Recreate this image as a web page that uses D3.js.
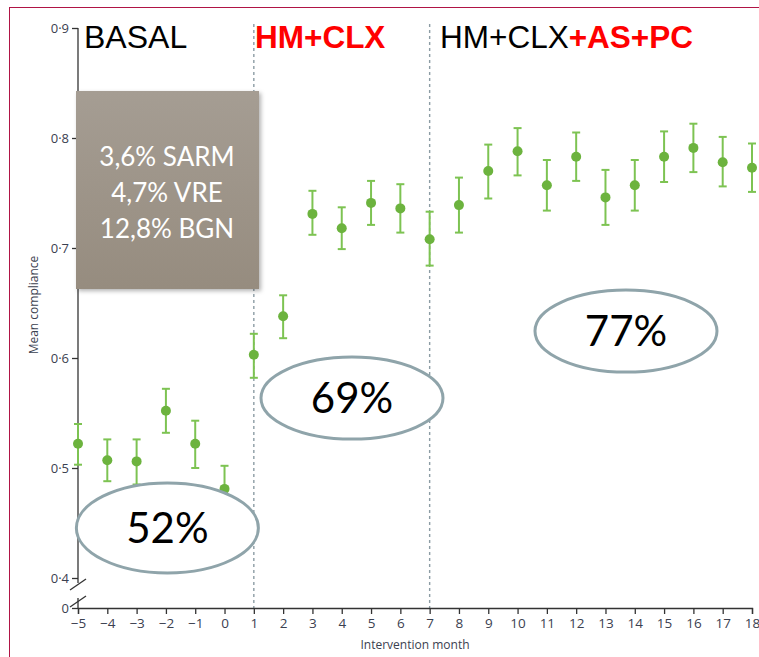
<!DOCTYPE html>
<html>
<head>
<meta charset="utf-8">
<script src="https://cdn.jsdelivr.net/npm/d3@7"></script>
<style>
  html, body { margin: 0; padding: 0; background: #fff; }
  svg { display: block; }
</style>
</head>
<body>
<svg id="chart" width="759" height="657"></svg>
<script>
// Monthly mean compliance with error bars
const months = [-5, -4, -3, -2, -1, 0, 1, 2, 3, 4, 5, 6, 7, 8, 9, 10, 11, 12, 13, 14, 15, 16, 17, 18];
const meanCompliance = [0.522, 0.507, 0.506, 0.552, 0.522, 0.481, 0.603, 0.638, 0.731, 0.718, 0.741, 0.736, 0.708, 0.739, 0.770, 0.788, 0.757, 0.783, 0.746, 0.757, 0.783, 0.791, 0.778, 0.773];
const upperCI = [0.540, 0.526, 0.526, 0.572, 0.543, 0.502, 0.622, 0.657, 0.752, 0.737, 0.761, 0.758, 0.733, 0.764, 0.794, 0.809, 0.780, 0.805, 0.771, 0.780, 0.806, 0.813, 0.801, 0.795];
const lowerCI = [0.503, 0.488, 0.485, 0.532, 0.500, 0.460, 0.582, 0.618, 0.712, 0.699, 0.721, 0.714, 0.684, 0.714, 0.745, 0.766, 0.734, 0.761, 0.721, 0.734, 0.760, 0.769, 0.756, 0.751];

const yTicks = [0, 0.4, 0.5, 0.6, 0.7, 0.8, 0.9];
const phaseStarts = [1, 7];
// phase mean bubbles, placed in data coordinates
const phaseMeans = [
  { label: "52%", month: -1.95, value: 0.4455, ry: 45 },
  { label: "69%", month: 4.35, value: 0.5636, ry: 41 },
  { label: "77%", month: 13.7, value: 0.6245, ry: 41 }
];
const resistanceLines = ["3,6% SARM", "4,7% VRE", "12,8% BGN"];

const svg = d3.select("#chart");

// Page frame (top and left rules)
svg.append("line").attr("x1", 9).attr("x2", 759).attr("y1", 7.5).attr("y2", 7.5)
  .attr("stroke", "#b01445").attr("stroke-width", 1);
svg.append("line").attr("x1", 9.5).attr("x2", 9.5).attr("y1", 7).attr("y2", 657)
  .attr("stroke", "#b01445").attr("stroke-width", 1);

const x = d3.scaleLinear().domain([-5, 18]).range([78, 752]);
// broken axis: 0 sits just below 0.4
const y = d3.scaleLinear().domain([0, 0.4, 0.9]).range([608, 578, 28]);

const axisColor = "#333";
const labelColor = "#3b4150";
const tickFont = "'Open Sans', 'DejaVu Sans', sans-serif";

// Phase dividers
svg.selectAll(".phase").data(phaseStarts).join("line")
  .attr("class", "phase")
  .attr("x1", d => x(d)).attr("x2", d => x(d))
  .attr("y1", 24).attr("y2", y(0))
  .attr("stroke", "#8c9ca4").attr("stroke-width", 1.4)
  .attr("stroke-dasharray", "3,3");

// X axis
const xAxis = d3.axisBottom(x).tickValues(months).tickSize(6).tickPadding(4)
  .tickFormat(d => d < 0 ? "\u2212" + Math.abs(d) : String(d));
const gx = svg.append("g").attr("transform", `translate(0,${y(0)})`).call(xAxis);
gx.select(".domain").attr("stroke", axisColor).attr("stroke-width", 1.3);
gx.selectAll(".tick line").attr("stroke", axisColor).attr("stroke-width", 1.3);
gx.selectAll(".tick text").attr("fill", labelColor).attr("font-family", tickFont).attr("font-size", 13.5);

// Y axis (drawn in two pieces around the break)
const yAxis = d3.axisLeft(y).tickValues(yTicks).tickSize(6).tickPadding(3)
  .tickFormat(d => d === 0 ? "0" : d3.format(".1f")(d).replace(".", "\u00B7"));
const gy = svg.append("g").attr("transform", `translate(${x(-5)},0)`).call(yAxis);
gy.select(".domain").remove();
gy.selectAll(".tick line").attr("stroke", axisColor).attr("stroke-width", 1.3);
gy.selectAll(".tick text").attr("fill", labelColor).attr("font-family", tickFont).attr("font-size", 13);

const ax0 = x(-5);
svg.append("line").attr("x1", ax0).attr("x2", ax0).attr("y1", y(0.9)).attr("y2", y(0.4) + 5)
  .attr("stroke", axisColor).attr("stroke-width", 1.3);
svg.append("line").attr("x1", ax0).attr("x2", ax0).attr("y1", y(0) - 10).attr("y2", y(0))
  .attr("stroke", axisColor).attr("stroke-width", 1.3);
// break marks
[y(0.4) + 7, y(0) - 6].forEach(cy => {
  svg.append("line").attr("x1", ax0 - 8).attr("y1", cy + 5).attr("x2", ax0 + 8).attr("y2", cy - 6)
    .attr("stroke", axisColor).attr("stroke-width", 1.3);
});

// Axis titles
svg.append("text").attr("x", 415).attr("y", 649).attr("text-anchor", "middle")
  .attr("fill", labelColor).attr("font-family", tickFont).attr("font-size", 12)
  .text("Intervention month");
svg.append("text").attr("transform", "translate(38,305) rotate(-90)").attr("text-anchor", "middle")
  .attr("fill", labelColor).attr("font-family", tickFont).attr("font-size", 12)
  .text("Mean compliance");

// Phase titles
const titleFont = "'Liberation Sans', Arial, sans-serif";
svg.append("text").attr("x", 84).attr("y", 48).attr("font-family", titleFont).attr("font-size", 32)
  .attr("fill", "#000").text("BASAL");
svg.append("text").attr("x", 255).attr("y", 48).attr("font-family", titleFont).attr("font-size", 31.5)
  .attr("font-weight", "bold").attr("fill", "#ff0000").text("HM+CLX");
const t3 = svg.append("text").attr("x", 440).attr("y", 48).attr("font-family", titleFont).attr("font-size", 31.5);
t3.append("tspan").attr("fill", "#000").text("HM+CLX");
t3.append("tspan").attr("fill", "#ff0000").attr("font-weight", "bold").text("+AS+PC");

// Data: error bars and points
const data = months.map((m, i) => ({ m, v: meanCompliance[i], hi: upperCI[i], lo: lowerCI[i] }));
const barColor = "#7dc352";
const pts = svg.append("g");
pts.selectAll(".err").data(data).join("line")
  .attr("x1", d => x(d.m)).attr("x2", d => x(d.m))
  .attr("y1", d => y(d.hi)).attr("y2", d => y(d.lo))
  .attr("stroke", barColor).attr("stroke-width", 2);
pts.selectAll(".capT").data(data).join("line")
  .attr("x1", d => x(d.m) - 4).attr("x2", d => x(d.m) + 4)
  .attr("y1", d => y(d.hi)).attr("y2", d => y(d.hi))
  .attr("stroke", barColor).attr("stroke-width", 2);
pts.selectAll(".capB").data(data).join("line")
  .attr("x1", d => x(d.m) - 4).attr("x2", d => x(d.m) + 4)
  .attr("y1", d => y(d.lo)).attr("y2", d => y(d.lo))
  .attr("stroke", barColor).attr("stroke-width", 2);
pts.selectAll("circle").data(data).join("circle")
  .attr("cx", d => x(d.m)).attr("cy", d => y(d.v)).attr("r", 5)
  .attr("fill", "#6cb33e");

// Phase mean bubbles
const bub = svg.selectAll(".bubble").data(phaseMeans).join("g").attr("class", "bubble")
  .attr("transform", d => `translate(${x(d.month)},${y(d.value)})`);
bub.append("ellipse").attr("rx", 91).attr("ry", d => d.ry)
  .attr("fill", "#fff").attr("stroke", "#8fa4aa").attr("stroke-width", 3);
bub.append("text").attr("text-anchor", "middle").attr("dy", 15)
  .attr("font-family", "Lato, 'Open Sans', sans-serif").attr("font-size", 42).attr("fill", "#000")
  .text(d => d.label);

// Resistance rates box
const defs = svg.append("defs");
const grad = defs.append("linearGradient").attr("id", "boxGrad").attr("x1", 0).attr("y1", 0).attr("x2", 0).attr("y2", 1);
grad.append("stop").attr("offset", "0%").attr("stop-color", "#a59d93");
grad.append("stop").attr("offset", "100%").attr("stop-color", "#968c7f");
const f = defs.append("filter").attr("id", "boxShadow").attr("x", "-10%").attr("y", "-10%").attr("width", "130%").attr("height", "130%");
f.append("feDropShadow").attr("dx", 2).attr("dy", 2).attr("stdDeviation", 2).attr("flood-color", "#000").attr("flood-opacity", 0.3);

svg.append("rect").attr("x", 76).attr("y", 91).attr("width", 183).attr("height", 198)
  .attr("fill", "url(#boxGrad)").attr("filter", "url(#boxShadow)");
svg.append("g").selectAll("text").data(resistanceLines).join("text")
  .attr("x", 167).attr("y", (d, i) => 166 + i * 36)
  .attr("text-anchor", "middle").attr("fill", "#fff")
  .attr("font-family", "Lato, 'Open Sans', sans-serif").attr("font-size", 26)
  .text(d => d);
</script>
</body>
</html>
